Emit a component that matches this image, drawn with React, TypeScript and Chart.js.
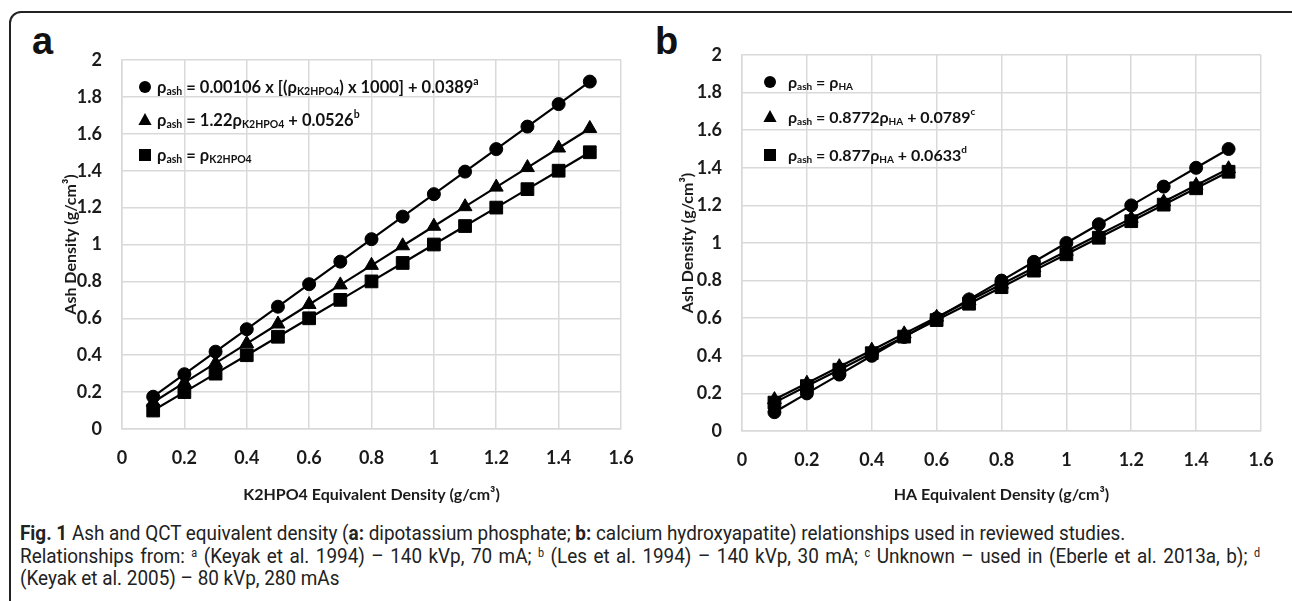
import React, { useEffect, useRef } from "react";
import { Chart, registerables } from "chart.js";

Chart.register(...registerables);

// ---------- data ----------
const xValues = [0.1, 0.2, 0.3, 0.4, 0.5, 0.6, 0.7, 0.8, 0.9, 1.0, 1.1, 1.2, 1.3, 1.4, 1.5];

const aCircle = [0.175, 0.297, 0.419, 0.541, 0.663, 0.785, 0.907, 1.029, 1.151, 1.273, 1.395, 1.517, 1.639, 1.761, 1.883];
const aTriangle = [0.145, 0.251, 0.357, 0.463, 0.569, 0.675, 0.781, 0.887, 0.993, 1.099, 1.205, 1.311, 1.417, 1.523, 1.629];
const aSquare = [0.1, 0.2, 0.3, 0.4, 0.5, 0.6, 0.7, 0.8, 0.9, 1.0, 1.1, 1.2, 1.3, 1.4, 1.5];

const bCircle = [0.1, 0.2, 0.3, 0.4, 0.5, 0.6, 0.7, 0.8, 0.9, 1.0, 1.1, 1.2, 1.3, 1.4, 1.5];
const bTriangle = [0.167, 0.254, 0.342, 0.430, 0.517, 0.605, 0.693, 0.781, 0.868, 0.956, 1.044, 1.131, 1.219, 1.307, 1.395];
const bSquare = [0.151, 0.239, 0.326, 0.414, 0.502, 0.590, 0.677, 0.765, 0.853, 0.940, 1.028, 1.116, 1.204, 1.291, 1.379];

const xTickValues = [0, 0.2, 0.4, 0.6, 0.8, 1, 1.2, 1.4, 1.6];
const yTickValues = [0, 0.2, 0.4, 0.6, 0.8, 1, 1.2, 1.4, 1.6, 1.8, 2];

const xTitleA = "K2HPO4 Equivalent Density (g/cm³)";
const xTitleB = "HA Equivalent Density (g/cm³)";
const yTitle = "Ash Density (g/cm³)";

// legend entries as rich-text segments: [text, kind]
type Seg = [string, string?];
const legendA: Seg[][] = [
  [["ρ"], ["ash", "sub"], [" = 0.00106 x [("], ["ρ"], ["K2HPO4", "sub"], [") x 1000] + 0.0389"], ["a", "sup"]],
  [["ρ"], ["ash", "sub"], [" = 1.22"], ["ρ"], ["K2HPO4", "sub"], [" + 0.0526"], ["b", "sup"]],
  [["ρ"], ["ash", "sub"], [" = "], ["ρ"], ["K2HPO4", "sub"]],
];
const legendB: Seg[][] = [
  [["ρ"], ["ash", "sub"], [" = "], ["ρ"], ["HA", "sub"]],
  [["ρ"], ["ash", "sub"], [" = 0.8772"], ["ρ"], ["HA", "sub"], [" + 0.0789"], ["c", "sup"]],
  [["ρ"], ["ash", "sub"], [" = 0.877"], ["ρ"], ["HA", "sub"], [" + 0.0633"], ["d", "sup"]],
];

const FONT = "Lato, 'Open Sans', sans-serif";

// ---------- plugin: rich legend inside the plot ----------
const richLegend = {
  id: "richLegend",
  afterDraw(chart: any, _args: any, opts: any) {
    if (!opts || !opts.items) return;
    const { ctx, chartArea } = chart;
    const dsets = chart.data.datasets;
    opts.items.forEach((segs: Seg[], i: number) => {
      const ds = dsets[i];
      const cy = chartArea.top + opts.rows[i];
      const cx = chartArea.left + opts.markerX;
      ctx.save();
      ctx.fillStyle = "#000";
      ctx.strokeStyle = "#000";
      ctx.beginPath();
      const r = opts.markerR;
      if (ds.pointStyle === "circle") {
        ctx.arc(cx, cy, r, 0, Math.PI * 2);
      } else if (ds.pointStyle === "triangle") {
        ctx.moveTo(cx, cy - r * 1.15);
        ctx.lineTo(cx + r * 1.1, cy + r * 0.85);
        ctx.lineTo(cx - r * 1.1, cy + r * 0.85);
        ctx.closePath();
      } else {
        ctx.rect(cx - r, cy - r, 2 * r, 2 * r);
      }
      ctx.fill();
      let x = cx + opts.textGap;
      const base = cy + 6;
      ctx.textBaseline = "alphabetic";
      ctx.textAlign = "left";
      ctx.fillStyle = "#111";
      segs.forEach(([t, kind]) => {
        let y = base;
        if (kind === "sub") {
          ctx.font = `bold ${opts.small}px ${FONT}`;
          y = base + 2;
        } else if (kind === "sup") {
          ctx.font = `bold ${opts.small}px ${FONT}`;
          y = base - 8;
        } else {
          ctx.font = `bold ${opts.size}px ${FONT}`;
        }
        ctx.fillText(t, x, y);
        x += ctx.measureText(t).width;
      });
      ctx.restore();
    });
  },
};

function fmt(v: number) {
  return String(Number(v.toFixed(1)));
}

function makeConfig(series: number[][], legend: Seg[][], xTitle: string, geom: any) {
  const styles = ["circle", "triangle", "rect"];
  const radii = [6.5, 8, 9];
  return {
    type: "scatter",
    data: {
      datasets: series.map((s, i) => ({
        label: "s" + i,
        data: xValues.map((x, j) => ({ x, y: s[j] })),
        showLine: true,
        borderColor: "#000",
        backgroundColor: "#000",
        borderWidth: 2.2,
        pointStyle: styles[i],
        pointRadius: radii[i],
        pointBorderWidth: 1,
        pointBackgroundColor: "#000",
        pointBorderColor: "#000",
      })),
    },
    options: {
      animation: false,
      responsive: false,
      events: [],
      layout: { padding: geom.padding },
      plugins: {
        legend: { display: false },
        tooltip: { enabled: false },
        richLegend: {
          items: legend,
          rows: geom.rows,
          markerX: geom.markerX,
          textGap: geom.textGap,
          markerR: 6,
          size: geom.legendSize,
          small: geom.legendSmall,
        },
      },
      scales: {
        x: {
          type: "linear",
          min: 0,
          max: 1.6,
          afterFit: (s: any) => {
            s.height = geom.xHeight;
            s.paddingLeft = 0;
            s.paddingRight = 0;
          },
          afterBuildTicks: (s: any) => {
            s.ticks = xTickValues.map((v) => ({ value: v }));
          },
          grid: { color: "#d9d9d9", lineWidth: 1.5, drawTicks: false },
          border: { color: "#d9d9d9", width: 1.5 },
          ticks: {
            padding: 18,
            color: "#1a1a1a",
            font: { family: FONT, size: 18, weight: "bold" },
            callback: (v: number) => fmt(v),
            maxRotation: 0,
          },
          title: {
            display: true,
            text: xTitle,
            color: "#1a1a1a",
            font: { family: FONT, size: 16, weight: "bold" },
            padding: { top: 0, bottom: geom.xTitlePad },
          },
        },
        y: {
          type: "linear",
          min: 0,
          max: 2,
          afterFit: (s: any) => {
            s.width = geom.yWidth;
            s.paddingTop = 0;
            s.paddingBottom = 0;
          },
          afterBuildTicks: (s: any) => {
            s.ticks = yTickValues.map((v) => ({ value: v }));
          },
          grid: { color: "#d9d9d9", lineWidth: 1.5, drawTicks: false },
          border: { color: "#d9d9d9", width: 1.5 },
          ticks: {
            padding: 20,
            color: "#1a1a1a",
            font: { family: FONT, size: 18, weight: "bold" },
            callback: (v: number) => fmt(v),
          },
          title: {
            display: true,
            text: yTitle,
            color: "#1a1a1a",
            font: { family: FONT, size: 16, weight: "bold" },
            padding: { top: 0, bottom: 0 },
          },
        },
      },
    },
    plugins: [richLegend],
  };
}

function Panel(props: { series: number[][]; legend: Seg[][]; xTitle: string; geom: any; left: number; top: number; w: number; h: number }) {
  const ref = useRef<HTMLCanvasElement>(null);
  useEffect(() => {
    const chart = new Chart(ref.current as HTMLCanvasElement, makeConfig(props.series, props.legend, props.xTitle, props.geom) as any);
    return () => chart.destroy();
  }, []);
  return (
    <canvas
      ref={ref}
      width={props.w}
      height={props.h}
      style={{ position: "absolute", left: props.left, top: props.top, width: props.w, height: props.h }}
    />
  );
}

const geomA = {
  padding: { left: 21, top: 40, right: 19, bottom: 0 },
  yWidth: 61,
  xHeight: 91,
  xTitlePad: 16,
  rows: [27, 60, 95],
  markerX: 23,
  textGap: 12,
  legendSize: 16.5,
  legendSmall: 10.5,
};
const geomB = {
  padding: { left: 18, top: 35, right: 19, bottom: 0 },
  yWidth: 64,
  xHeight: 89,
  xTitlePad: 16,
  rows: [27, 62, 100],
  markerX: 28,
  textGap: 18,
  legendSize: 16,
  legendSmall: 10,
};

const capFont = "Roboto, 'Open Sans', sans-serif";
const CAP_SCALE = 0.9;

export default function App() {
  const capLine: React.CSSProperties = {
    position: "absolute",
    left: 20,
    whiteSpace: "nowrap",
    fontFamily: capFont,
    fontSize: 21,
    lineHeight: "22px",
    color: "#222",
    transform: `scaleX(${CAP_SCALE})`,
    transformOrigin: "0 0",
  };
  const sup: React.CSSProperties = { fontSize: 12, verticalAlign: "top", position: "relative", top: -3 };
  const letter: React.CSSProperties = {
    position: "absolute",
    fontFamily: "'Liberation Sans', Arial, sans-serif",
    fontWeight: "bold",
    fontSize: 38,
    lineHeight: "48px",
    color: "#111",
  };
  return (
    <div style={{ position: "fixed", left: 0, top: 0, width: 1292, height: 601, overflow: "hidden", background: "#fff" }}>
      <div
        style={{
          position: "absolute",
          left: 9,
          top: 11,
          width: 1300,
          height: 700,
          border: "2px solid #222",
          borderRadius: 12,
          boxSizing: "border-box",
        }}
      />
      <div style={{ ...letter, left: 32, top: 17 }}>a</div>
      <div style={{ ...letter, left: 655, top: 17 }}>b</div>
      <Panel series={[aCircle, aTriangle, aSquare]} legend={legendA} xTitle={xTitleA} geom={geomA} left={40} top={20} w={600} h={500} />
      <Panel series={[bCircle, bTriangle, bSquare]} legend={legendB} xTitle={xTitleB} geom={geomB} left={660} top={20} w={620} h={500} />
      <div style={{ ...capLine, top: 522 }}>
        <b>Fig. 1</b> Ash and QCT equivalent density (<b>a:</b> dipotassium phosphate; <b>b:</b> calcium hydroxyapatite) relationships used in reviewed studies.
      </div>
      <div
        style={{
          ...capLine,
          top: 545,
          width: 1240 / CAP_SCALE,
          whiteSpace: "normal",
          textAlign: "justify",
          textAlignLast: "justify" as any,
        }}
      >
        Relationships from: <span style={sup}>a</span> (Keyak et al. 1994) – 140 kVp, 70 mA; <span style={sup}>b</span> (Les et al. 1994) – 140 kVp, 30 mA; <span style={sup}>c</span> Unknown – used in (Eberle et al. 2013a, b); <span style={sup}>d</span>
      </div>
      <div style={{ ...capLine, top: 567 }}>(Keyak et al. 2005) – 80 kVp, 280 mAs</div>
    </div>
  );
}
